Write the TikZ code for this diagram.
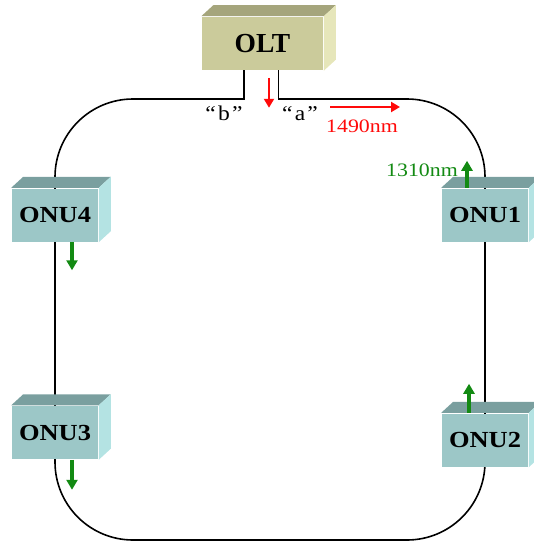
\documentclass[tikz,border=0pt]{standalone}
\usepackage{fontspec}
\setmainfont{Liberation Serif}
\usepackage{graphicx}
\usetikzlibrary{arrows.meta,calc,backgrounds}
\definecolor{oltFront}{HTML}{CBCB9B}
\definecolor{oltTop}{HTML}{A5A57C}
\definecolor{oltSide}{HTML}{E6E6BA}
\definecolor{onuFront}{HTML}{9CC7C7}
\definecolor{onuTop}{HTML}{7A9F9F}
\definecolor{onuSide}{HTML}{B4E3E3}
\definecolor{waveRed}{HTML}{FF0A0A}
\definecolor{waveGreen}{HTML}{138A13}
\newcommand{\wideText}[2][1.15]{\scalebox{#1}[1]{#2}}

\begin{document}
\begin{tikzpicture}[
  x=1pt, y=-1pt,
  line width=1.5pt,
  every node/.style={inner sep=0pt},
  % --- Reusable styles -------------------------------------------------------
  unit/.style={                  % front face of a box, colour set via #1
    rectangle, fill=#1Front,
    minimum width=86pt, minimum height=53pt,
    font=\fontsize{23}{24}\selectfont\bfseries,
  },
  ring/.style={draw=black, line width=1.6pt, rounded corners=78pt},
  stub/.style={draw=black, line width=1.6pt, line cap=rect},
  down/.style={-{Triangle[length=9pt,width=10pt]}, draw=waveRed, line width=2.8pt},
  up/.style={-{Triangle[length=10pt,width=11pt]}, draw=waveGreen, line width=3.2pt},
  port/.style={font=\fontsize{21}{21}\selectfont, anchor=base},
  wave/.style={font=\fontsize{19}{19}\selectfont, anchor=base},
]
\useasboundingbox (0,0) rectangle (533,543);

% --- Nodes -------------------------------------------------------------------
\node[unit=olt, minimum width=121pt] (olt)  at (262.5,43.5) {\fontsize{27.5}{28}\selectfont OLT};
\node[unit=onu]                      (onu1) at (485,215)    {\wideText[1.15]{ONU1}};
\node[unit=onu]                      (onu2) at (485,440)    {\wideText[1.15]{ONU2}};
\node[unit=onu]                      (onu3) at (55,432.5)   {\wideText[1.15]{ONU3}};
\node[unit=onu]                      (onu4) at (55,215)     {\wideText[1.15]{ONU4}};

% --- 3D faces ----------------------------------------------------------------
\foreach \n/\kind in {olt/olt, onu1/onu, onu2/onu, onu3/onu, onu4/onu} {
  \fill[\kind Top] (\n.north west) -- ++(12,-11)
    -- ($(\n.north east)+(12,-11)$) -- (\n.north east) -- cycle;
  \fill[\kind Side] (\n.north east) -- ++(12,-11)
    -- ($(\n.south east)+(12,-11)$) -- (\n.south east) -- cycle;
}

% --- Fibre ring --------------------------------------------------------------
\coordinate (portB) at ($(olt.south)+(-18.5,0)$);
\coordinate (portA) at ($(olt.south)+(16,0)$);
\coordinate (tl) at (55,99);
\coordinate (bl) at (55,540);
\coordinate (br) at (485,540);
\coordinate (tr) at (485,99);
\begin{scope}[on background layer]
  \draw[ring] (portB |- tl) -- (tl) -- (bl) -- (br) -- (tr) -- (portA |- tr);
  \draw[stub] (portB) -- (portB |- tl);
  \draw[stub] (portA) -- (portA |- tr);
\end{scope}

% --- Labels ------------------------------------------------------------------
\node[port] (lblB) at (224,120) {\wideText[1.12]{``\kern2pt b\kern2pt''}};
\node[port] (lblA) at (300,120) {\wideText[1.12]{``\kern2pt a\kern2pt''}};
\node[wave, text=waveRed]   (down) at (362,132) {\wideText{1490nm}};
\node[wave, text=waveGreen] (upw)  at (422,176) {\wideText{1310nm}};

% --- Wavelength arrows -------------------------------------------------------
\draw[down] ($(olt.south)+(6.5,7)$) -- ++(0,30);
\draw[down] (330,107) -- (400,107);
\draw[up] ($(onu1.north)+(-18,0)$) -- ++(0,-27);
\draw[up] ($(onu2.north)+(-16,0)$) -- ++(0,-29);
\draw[up] ($(onu4.south)+(17,0)$) -- ++(0,28);
\draw[up] ($(onu3.south)+(17,0)$) -- ++(0,30);

\end{tikzpicture}
\end{document}
